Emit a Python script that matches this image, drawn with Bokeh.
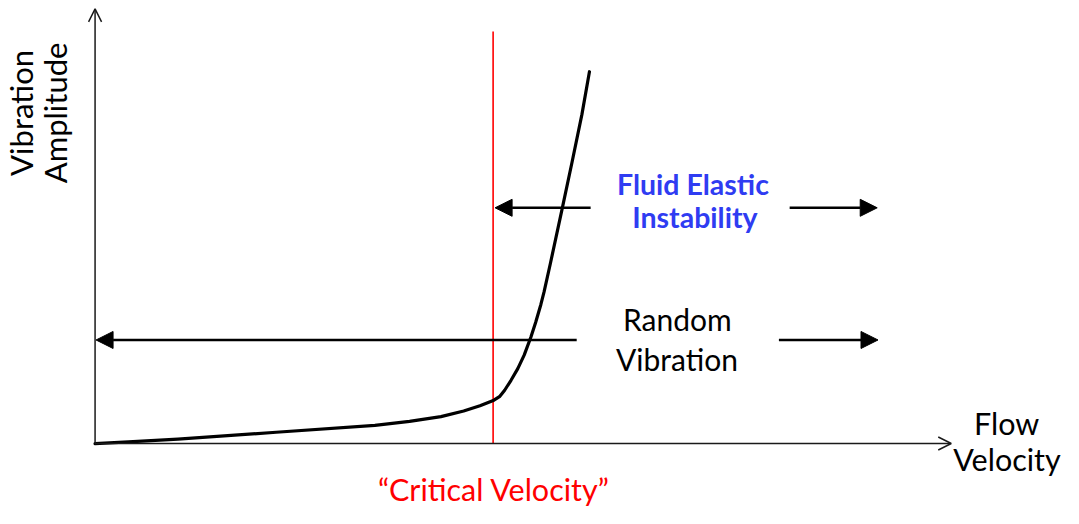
from bokeh.plotting import figure
from bokeh.models import Range1d, Arrow, NormalHead, OpenHead
from bokeh.core.properties import value
from bokeh.embed import file_html
from bokeh.resources import INLINE
import math

# ---- data (velocity as % of critical velocity, amplitude as % of axis height) ----
velocity = [0, 8.4, 20.8, 45.5, 70.3, 79.0, 86.9, 92.6, 96.7, 100.2, 101.7, 102.9, 104.5,
            106.2, 107.8, 109.5, 110.7, 112.0, 112.8, 114.4, 117.3, 119.8, 122.3, 124.2]
amplitude = [0, 0.4, 1.0, 2.6, 4.2, 5.1, 6.2, 7.5, 8.7, 10.0, 10.9, 12.3, 14.6,
             17.3, 20.4, 24.6, 28.0, 32.1, 35.0, 41.6, 54.0, 64.8, 75.9, 85.8]
critical_velocity = 100.0
critical_line_top = 95.1
x_axis_end = 215.1
y_axis_end = 100.3

fei_y = 54.4
fei_left = [124.5, 100.5]    # start, tip
fei_right = [174.5, 196.5]
rv_y = 23.9
rv_left = [121.0, 0.25]
rv_right = [171.8, 196.7]

labels_axis = ["Vibration", "Amplitude", "Flow", "Velocity"]
label_random = ["Random", "Vibration"]
label_fei = ["Fluid Elastic", "Instability"]
label_critical = "\u201cCritical Velocity\u201d"

FONT = "Lato"
DY = 2.65   # baseline correction (data units) for horizontal text
DX = 2.89   # baseline correction (data units) for rotated text

p = figure(width=1063, height=508, output_backend="svg", toolbar_location=None,
           x_range=Range1d(-23.76, 243.3), y_range=Range1d(-14.99, 102.24),
           min_border=0, outline_line_color=None, background_fill_color="white",
           border_fill_color="white")
p.axis.visible = False
p.grid.visible = False

# axes with open arrow heads
p.add_layout(Arrow(x_start=0, y_start=0, x_end=x_axis_end, y_end=0,
                   line_color="#1a1a1a", line_width=1.5,
                   end=OpenHead(size=13, line_color="#1a1a1a", line_width=1.5)))
p.add_layout(Arrow(x_start=0, y_start=0, x_end=0, y_end=y_axis_end,
                   line_color="#1a1a1a", line_width=1.5,
                   end=OpenHead(size=13, line_color="#1a1a1a", line_width=1.5)))

# critical velocity line
p.segment(x0=[critical_velocity], y0=[0], x1=[critical_velocity], y1=[critical_line_top],
          line_color="#ff0000", line_width=1.6)

# response curve
p.line(velocity, amplitude, line_color="black", line_width=3.2, line_join="round", line_cap="round")

# region arrows
def region_arrow(x0, x1, y):
    p.add_layout(Arrow(x_start=x0, y_start=y, x_end=x1, y_end=y,
                       line_color="black", line_width=2.6,
                       end=NormalHead(size=17, fill_color="black", line_color="black", line_width=1)))

region_arrow(fei_left[0], fei_left[1], fei_y)
region_arrow(fei_right[0], fei_right[1], fei_y)
region_arrow(rv_left[0], rv_left[1], rv_y)
region_arrow(rv_right[0], rv_right[1], rv_y)

# texts
p.text(x=[150.2, 150.7], y=[57.3 + DY, 49.7 + DY], text=label_fei, text_font=value(FONT),
       text_font_style="bold", text_font_size="28.5px", text_color="#2f3cf2",
       text_align="center", text_baseline="alphabetic")
p.text(x=[146.3, 146.2], y=[26.2 + DY, 16.8 + DY], text=label_random, text_font=value(FONT),
       text_font_size="30px", text_color="black", text_align="center", text_baseline="alphabetic")
p.text(x=[229.0, 229.1], y=[2.0 + DY, -6.3 + DY], text=labels_axis[2:], text_font=value(FONT),
       text_font_size="30.5px", text_color="black", text_align="center", text_baseline="alphabetic")
p.text(x=[-15.6 - DX, -7.2 - DX], y=[76.3, 76.3], text=labels_axis[:2], text_font=value(FONT),
       text_font_size="31px", text_color="black", text_align="center", text_baseline="alphabetic",
       angle=math.pi / 2)
p.text(x=[100.2], y=[-13.1 + DY], text=[label_critical], text_font=value(FONT),
       text_font_size="30.5px", text_color="#ff0000", text_align="center", text_baseline="alphabetic")

open("out.html", "w").write(file_html(p, INLINE))
